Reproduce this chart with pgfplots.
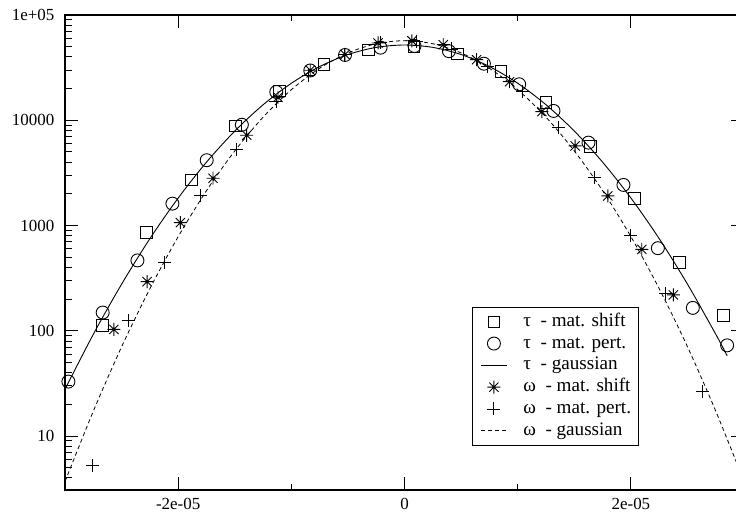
\documentclass[border=0pt]{standalone}
\usepackage{fontspec}
\setmainfont{Liberation Serif}
\usepackage{pgfplots}
\pgfplotsset{compat=1.18}

% eight-armed asterisk like the grace "star"
\pgfdeclareplotmark{ast8}{%
  \pgfpathmoveto{\pgfqpoint{-\pgfplotmarksize}{0pt}}%
  \pgfpathlineto{\pgfqpoint{\pgfplotmarksize}{0pt}}%
  \pgfpathmoveto{\pgfqpoint{0pt}{-\pgfplotmarksize}}%
  \pgfpathlineto{\pgfqpoint{0pt}{\pgfplotmarksize}}%
  \pgfpathmoveto{\pgfqpoint{-0.7071\pgfplotmarksize}{-0.7071\pgfplotmarksize}}%
  \pgfpathlineto{\pgfqpoint{0.7071\pgfplotmarksize}{0.7071\pgfplotmarksize}}%
  \pgfpathmoveto{\pgfqpoint{-0.7071\pgfplotmarksize}{0.7071\pgfplotmarksize}}%
  \pgfpathlineto{\pgfqpoint{0.7071\pgfplotmarksize}{-0.7071\pgfplotmarksize}}%
  \pgfusepathqstroke}
\newcommand\lgap{\hspace*{16bp}}

\begin{document}
\begin{tikzpicture}
\begin{axis}[name=ax,
  scale only axis, width=679.1bp, height=475bp,
  xmin=-3e-5, xmax=3e-5, ymode=log, ymin=3.07, ymax=1e5,
  axis line style={line width=1.1bp},
  every tick/.style={black, line width=0.9bp},
  tick align=inside, major tick length=13bp, minor tick length=6.5bp,
  scaled x ticks=false,
  xtick={-2e-5,0,2e-5}, xticklabels={-2e-05,0,2e-05},
  minor xtick={-1e-5,1e-5},
  ytick={10,100,1000,10000,100000}, yticklabels={10,100,1000,10000,1e+05},
  minor ytick={4,5,6,7,8,9,20,30,40,50,60,70,80,90,200,300,400,500,600,700,800,900,2000,3000,4000,5000,6000,7000,8000,9000,20000,30000,40000,50000,60000,70000,80000,90000},
  tick label style={font=\fontsize{17}{20}\selectfont},
  yticklabel style={inner sep=0pt, xshift=-10.5bp},
  xticklabel style={inner sep=0pt, yshift=-8bp},
  legend image code/.code={\draw[mark repeat=2,mark phase=2,#1] plot coordinates {(0bp,4.5bp) (13bp,4.5bp) (26bp,4.5bp)};},
  legend style={at={(0.5998,0.3846)}, anchor=north west, draw=black, line width=0.9bp,
    fill=white, inner xsep=7.7bp, inner ysep=3.5bp, row sep=0pt, column sep=0pt,
    font=\fontsize{19.2}{21}\selectfont,
    nodes={inner xsep=0pt, inner ysep=0pt, text height=15bp, text depth=6.8bp, anchor=base west}},
  legend cell align=left,
]
% tau - mat. shift
\addplot[only marks, mark=square, mark size=5.8bp, line width=0.9bp, black] coordinates {
(-2.667e-5,113) (-2.281e-5,864) (-1.883e-5,2710) (-1.495e-5,8830) (-1.104e-5,18970)
(-0.712e-5,34020) (-0.318e-5,46520) (0.083e-5,50000) (0.465e-5,42620) (0.851e-5,28940)
(1.249e-5,14830) (1.640e-5,5615) (2.029e-5,1817) (2.427e-5,443) (2.817e-5,140)};
% tau - mat. pert.
\addplot[only marks, mark=o, mark size=6.5bp, line width=0.9bp, black] coordinates {
(-2.970e-5,32.9) (-2.667e-5,149) (-2.360e-5,466) (-2.051e-5,1614) (-1.748e-5,4171)
(-1.4375e-5,9066) (-1.133e-5,18570) (-0.833e-5,29710) (-0.526e-5,41710) (-0.212e-5,48930)
(0.088e-5,50770) (0.392e-5,45320) (0.701e-5,34470) (1.013e-5,21970) (1.316e-5,12260)
(1.625e-5,6129) (1.934e-5,2430) (2.238e-5,609) (2.547e-5,165) (2.850e-5,72.7)};
% tau - gaussian
\addplot[black, line width=0.9bp, smooth] coordinates {
(-3e-5,27.8) (-2.75e-5,92.5) (-2.5e-5,277) (-2.25e-5,750) (-2e-5,1824) (-1.75e-5,3998)
(-1.5e-5,7893) (-1.25e-5,14030) (-1e-5,22460) (-0.75e-5,32390) (-0.5e-5,42100)
(-0.25e-5,49240) (0,51880) (0.25e-5,49240) (0.5e-5,42100) (0.75e-5,32390) (1e-5,22460)
(1.25e-5,14030) (1.5e-5,7893) (1.75e-5,3998) (2e-5,1824) (2.25e-5,750) (2.5e-5,277)
(2.75e-5,92.5) (2.85e-5,57.9)};
% omega - mat. shift
\addplot[only marks, mark=ast8, mark size=6.5bp, line width=0.9bp, black] coordinates {
(-2.568e-5,103) (-2.275e-5,293) (-1.981e-5,1066) (-1.692e-5,2813) (-1.395e-5,7203)
(-1.118e-5,16530) (-0.833e-5,29840) (-0.526e-5,42170) (-0.234e-5,54220) (0.065e-5,56890)
(0.342e-5,52240) (0.636e-5,37630) (0.927e-5,23260) (1.213e-5,12070) (1.507e-5,5700)
(1.796e-5,1910) (2.096e-5,593) (2.375e-5,219)};
% omega - mat. pert.
\addplot[only marks, mark=+, mark size=6.5bp, line width=0.9bp, black] coordinates {
(-2.755e-5,5.21) (-2.440e-5,124) (-2.122e-5,448) (-1.804e-5,1923) (-1.486e-5,5281)
(-1.136e-5,15020) (-0.853e-5,26530) (-0.532e-5,42170) (-0.215e-5,54290) (0.103e-5,56360)
(0.412e-5,47530) (0.730e-5,32210) (1.042e-5,18690) (1.360e-5,8506) (1.678e-5,2850)
(1.999e-5,796) (2.308e-5,228) (2.629e-5,26.3)};
% omega - gaussian
\addplot[black, line width=0.8bp, dash pattern=on 4bp off 3bp, smooth] coordinates {
(-3e-5,3.69) (-2.75e-5,17.2) (-2.5e-5,70.4) (-2.25e-5,251) (-2e-5,784) (-1.75e-5,2141)
(-1.5e-5,5114) (-1.25e-5,10690) (-1e-5,19530) (-0.75e-5,31200) (-0.5e-5,43610)
(-0.25e-5,53320) (0,57020) (0.25e-5,53320) (0.5e-5,43610) (0.75e-5,31200) (1e-5,19530)
(1.25e-5,10690) (1.5e-5,5114) (1.75e-5,2141) (2e-5,784) (2.25e-5,251) (2.5e-5,70.4)
(2.75e-5,17.2) (3e-5,3.69)};
\legend{\lgap τ\ \ - mat. shift, \lgap τ\ \ - mat. pert., \lgap τ\ \ - gaussian,
  \lgap ω\ \ - mat. shift, \lgap ω\ \ - mat. pert., \lgap ω\ \ - gaussian}
\end{axis}
\pgfresetboundingbox
\path[use as bounding box] ([shift={(-65bp,-28bp)}]ax.south west) rectangle ([shift={(-8.1bp,15bp)}]ax.north east);
\end{tikzpicture}
\end{document}
